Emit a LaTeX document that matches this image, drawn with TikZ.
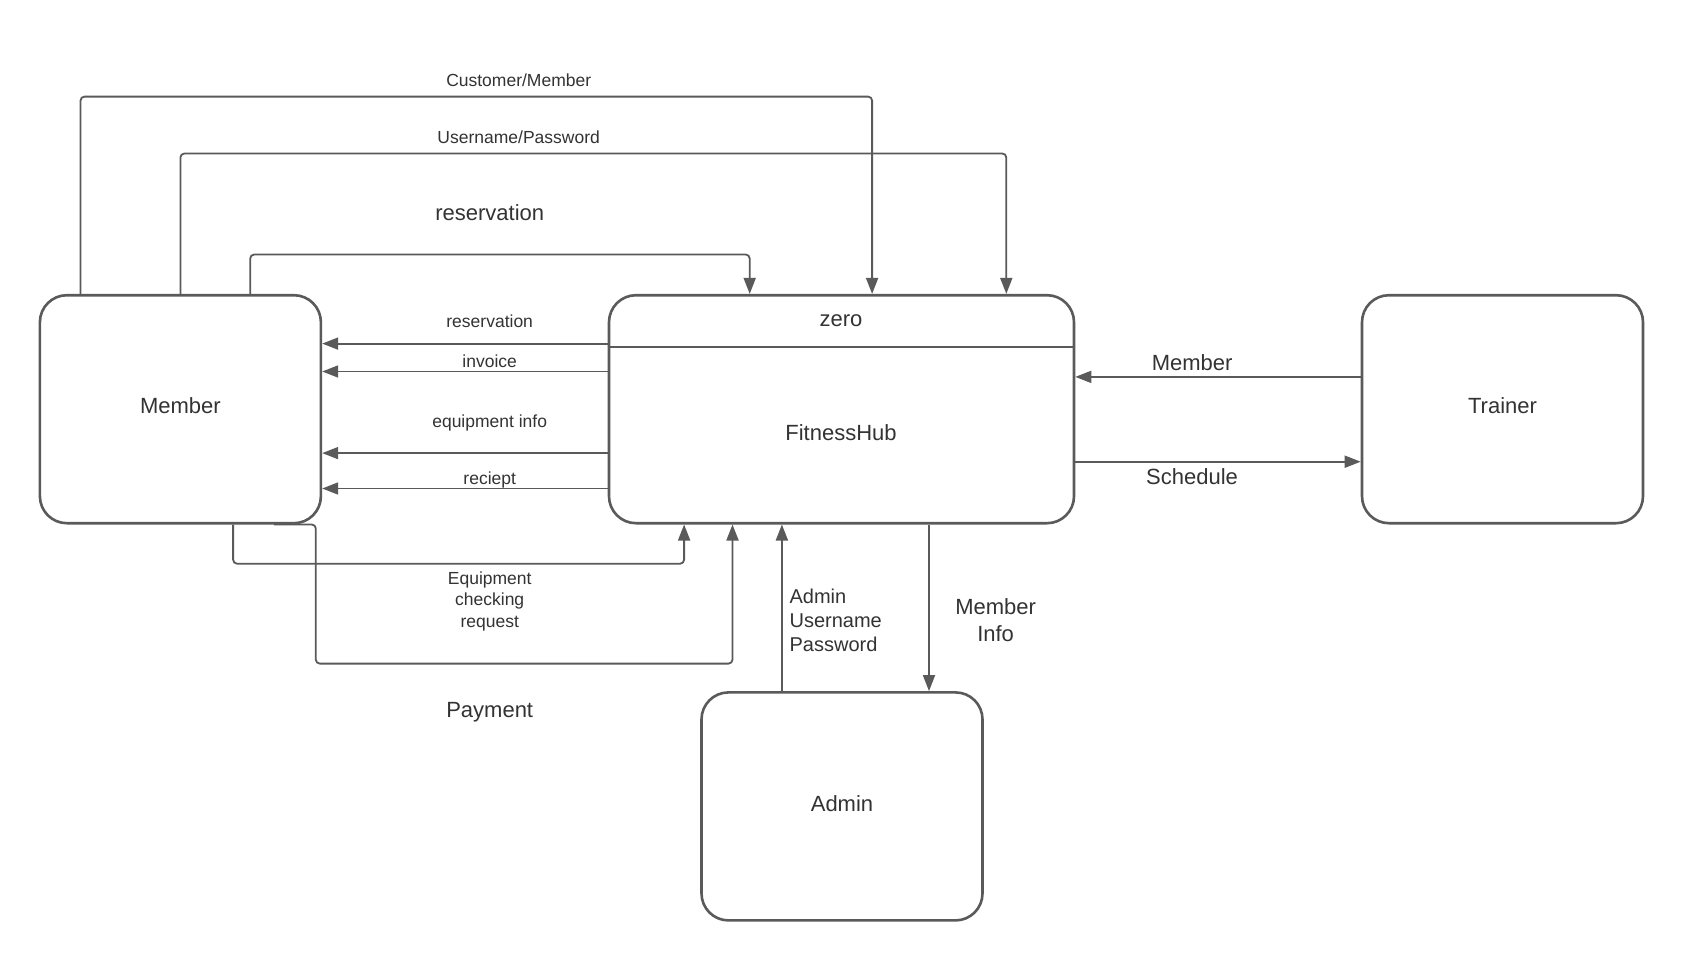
\documentclass[tikz,border=0pt]{standalone}
\usepackage{fontspec}
\setmainfont{Liberation Sans}
\usetikzlibrary{arrows.meta}
\definecolor{ln}{HTML}{5A5A5A}
\definecolor{tx}{HTML}{333333}
\tikzset{
  ent/.style={draw=ln, line width=2.6pt, rounded corners=27pt,
    minimum width=281pt, minimum height=228pt, inner sep=0pt},
  flow/.style={draw=ln, line width=1.8pt, rounded corners=4pt,
    -{Triangle[length=16pt,width=12pt]}},
  big/.style={text=tx, font=\fontsize{22}{27}\selectfont, inner sep=0pt},
  mid/.style={text=tx, font=\fontsize{20}{24}\selectfont, inner sep=0pt},
  small/.style={text=tx, font=\fontsize{17.5}{21.5}\selectfont, inner sep=0pt},
}
\begin{document}
\begin{tikzpicture}[x=1pt, y=-1pt]
\fill[white] (0,0) rectangle (1684,961);
\useasboundingbox (0,0) rectangle (1684,961);

% external entities and the process
\node[ent] (member) at (180.4,409.2) {};
\node[ent, minimum width=465pt] (fh) at (841.5,409.2) {};
\node[ent] (trainer) at (1502.5,409.2) {};
\node[ent] (admin) at (842,806.4) {};
\draw[ln, line width=2.6pt] (fh.west |- 0,346.8) -- (fh.east |- 0,346.8);

\node[big] (tmember) at (180.4,406) {Member};
\node[big] (tzero) at (841,321) {zero};
\node[big] (tfh) at (841,432.7) {FitnessHub};
\node[big] (ttrainer) at (1502.5,406) {Trainer};
\node[big] (tadmin) at (842,803.2) {Admin};

% flows from Member into the process (top)
\draw[flow] (member.north -| 80.5,0) -- (80.5,96.6) -- (872.1,96.6) -- (fh.north -| 872.1,0);
\draw[flow] (member.north -| 180.4,0) -- (180.4,153.5) -- (1006.3,153.5) -- (fh.north -| 1006.3,0);
\draw[flow] (member.north -| 250.2,0) -- (250.2,254.5) -- (749.7,254.5) -- (fh.north -| 749.7,0);
\node[small] (lcm) at (518.7,80.5) {Customer/Member};
\node[small] (lup) at (518.7,137.4) {Username/Password};
\node[big] (lres) at (489.7,212.6) {reservation};

% flows from the process back to Member
\draw[flow] (fh.west |- 0,343.6) -- (member.east |- 0,343.6);
\draw[flow] (fh.west |- 0,371.5) -- (member.east |- 0,371.5);
\draw[flow] (fh.west |- 0,453.1) -- (member.east |- 0,453.1);
\draw[flow] (fh.west |- 0,488.5) -- (member.east |- 0,488.5);
\node[small] (lres2) at (489.7,321) {reservation};
\node[small] (linv) at (489.7,360.8) {invoice};
\node[small] (leq) at (489.7,423) {equipment info};
\node[small] (lrec) at (489.7,479.9) {reciept};

% flows from Member into the process (bottom)
\draw[flow] (member.south -| 233.1,0) -- (233.1,563.7) -- (684.1,563.7) -- (fh.south -| 684.1,0);
\draw[flow] (member.south -| 273.9,0) -- (member.south -| 315.8,0) -- (315.8,663.6) -- (732.5,663.6) -- (fh.south -| 732.5,0);
\node[small, align=center] (lchk) at (489.7,601.2) {Equipment\\checking\\request};
\node[big] (lpay) at (489.7,711.9) {Payment};

% Admin
\draw[flow] (admin.north -| 781.9,0) -- (fh.south -| 781.9,0);
\draw[flow] (fh.south -| 929,0) -- (admin.north -| 929,0);
\node[mid, align=left, anchor=west] (laup) at (789.4,620.6) {Admin\\Username\\Password};
\node[big, align=center] (linfo) at (995.6,620.1) {Member\\Info};

% Trainer
\draw[flow] (trainer.west |- 0,376.9) -- (fh.east |- 0,376.9);
\draw[flow] (fh.east |- 0,461.7) -- (trainer.west |- 0,461.7);
\node[big] (ltm) at (1192.1,362.9) {Member};
\node[big] (lsch) at (1192.1,476.7) {Schedule};
\end{tikzpicture}
\end{document}
